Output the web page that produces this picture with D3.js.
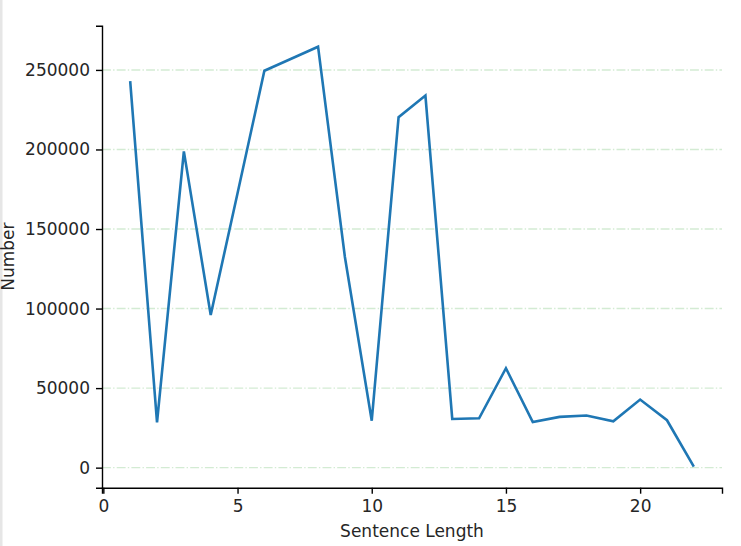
<!DOCTYPE html>
<html>
<head>
<meta charset="utf-8">
<script src="https://cdn.jsdelivr.net/npm/d3@7/dist/d3.min.js"></script>
<style>
  body { margin: 0; background: #fff; }
  svg { display: block; font-family: "DejaVu Sans", sans-serif; }
</style>
</head>
<body>
<svg id="grafico" width="741" height="546"></svg>
<script>
// dati
var lunghezze = [1, 2, 3, 4, 5, 6, 7, 8, 9, 10, 11, 12, 13, 14, 15, 16, 17, 18, 19, 20, 21, 22];
var numeri = [242900, 28500, 198800, 96000, 172500, 249500, 257000, 264600, 132400, 29500,
              220300, 233900, 30600, 31000, 62500, 28700, 31900, 32800, 29100, 42800, 29800, 600];
var tickX = [0, 5, 10, 15, 20];
var tickY = [0, 50000, 100000, 150000, 200000, 250000];

var etichettaX = "Sentence Length";
var etichettaY = "Number";

var svg = d3.select("#grafico");

// area del grafico
var sinistra = 102, destra = 722, alto = 25.7, basso = 487.7;

// margini 5% come matplotlib
var estX = d3.extent(lunghezze);
var estY = d3.extent(numeri);
var padX = (estX[1] - estX[0]) * 0.05;
var padY = (estY[1] - estY[0]) * 0.05;

var x = d3.scaleLinear().domain([estX[0] - padX, estX[1] + padX]).range([sinistra, destra]);
var y = d3.scaleLinear().domain([estY[0] - padY, estY[1] + padY]).range([basso, alto]);

// bordo grigio a sinistra
svg.append("rect")
    .attr("x", 0).attr("y", 0)
    .attr("width", 2.5).attr("height", 546)
    .attr("fill", "#e6e6e6");

// griglia orizzontale
svg.append("g")
    .selectAll("line")
    .data(tickY)
    .enter()
    .append("line")
    .attr("x1", sinistra)
    .attr("x2", destra)
    .attr("y1", d => y(d))
    .attr("y2", d => y(d))
    .attr("stroke", "#d3ebd3")
    .attr("stroke-width", 1.4)
    .attr("stroke-dasharray", "8.9,2.2,1.4,2.2");

// linea dei dati
var linea = d3.line()
    .x((d, i) => x(lunghezze[i]))
    .y(d => y(d));

svg.append("path")
    .datum(numeri)
    .attr("d", linea)
    .attr("fill", "none")
    .attr("stroke", "#1f77b4")
    .attr("stroke-width", 2.6)
    .attr("stroke-linejoin", "miter")
    .attr("stroke-linecap", "butt");

// assi
var asseX = d3.axisBottom(x).tickValues(tickX).tickSizeOuter(0).tickSize(6).tickPadding(6);
var asseY = d3.axisLeft(y).tickValues(tickY).tickFormat(d3.format("d")).tickSizeOuter(0).tickSize(6).tickPadding(6);

var gX = svg.append("g")
    .attr("transform", "translate(0," + basso + ")")
    .call(asseX);

var gY = svg.append("g")
    .attr("transform", "translate(" + sinistra + ",0)")
    .call(asseY);

[gX, gY].forEach(g => {
    g.select(".domain").attr("stroke", "#000").attr("stroke-width", 1.4);
    g.selectAll(".tick line").attr("stroke", "#000").attr("stroke-width", 1.4);
    g.selectAll(".tick text")
        .attr("fill", "#262626")
        .style("font-size", "17px")
        .style("font-family", "DejaVu Sans");
});

// titoli assi
svg.append("text")
    .attr("x", (sinistra + destra) / 2)
    .attr("y", 537)
    .attr("text-anchor", "middle")
    .attr("fill", "#262626")
    .style("font-size", "17px")
    .text(etichettaX);

svg.append("text")
    .attr("transform", "translate(14," + ((alto + basso) / 2) + ") rotate(-90)")
    .attr("text-anchor", "middle")
    .attr("fill", "#262626")
    .style("font-size", "17px")
    .text(etichettaY);
</script>
</body>
</html>
